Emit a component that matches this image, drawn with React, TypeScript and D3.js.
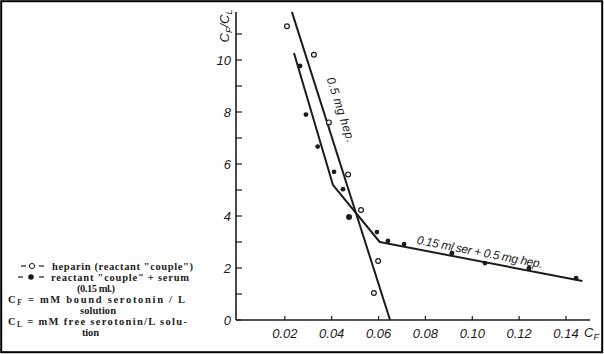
import { useEffect, useRef } from 'react';
import * as d3 from 'd3';

// heparin alone (open circles)
const heparinX = [0.0209, 0.0324, 0.0388, 0.047, 0.0525, 0.0598, 0.058];
const heparinY = [11.3, 10.2, 7.6, 5.6, 4.23, 2.27, 1.04];

// reactant couple + serum (filled circles)
const serumX = [0.0265, 0.029, 0.034, 0.041, 0.0448, 0.0474, 0.0593, 0.064, 0.0709, 0.0913, 0.1054, 0.1242, 0.1443];
const serumY = [9.77, 7.9, 6.67, 5.7, 5.03, 3.96, 3.38, 3.04, 2.92, 2.57, 2.19, 1.99, 1.61];

// fitted lines
const heparinLineX = [0.023, 0.0649];
const heparinLineY = [11.85, 0];
const serumLineX = [0.0239, 0.0405, 0.0605, 0.147];
const serumLineY = [10.27, 5.2, 3.0, 1.5];

const xTicks = [0.02, 0.04, 0.06, 0.08, 0.1, 0.12, 0.14];
const xTickLabels = ['0.02', '0.04', '0.06', '0.08', '0.10', '0.12', '0.14'];
const yTicks = [0, 1, 2, 3, 4, 5, 6, 7, 8, 9, 10, 11];
const yTickLabels = ['0', '', '2', '', '4', '', '6', '', '8', '', '10', ''];

const INK = '#1c1c1c';

export default function App() {
    const ref = useRef<SVGSVGElement>(null);

    useEffect(() => {
        if (!ref.current) return;
        const svg = d3.select(ref.current);
        svg.selectAll('*').remove();

        const W = 604, H = 354;
        svg.attr('width', W).attr('height', H);

        svg.append('rect').attr('width', W).attr('height', H).attr('fill', '#fff');
        // frame
        svg.append('rect')
            .attr('x', 1.2).attr('y', 1.2)
            .attr('width', W - 3).attr('height', H - 3)
            .attr('fill', 'none').attr('stroke', '#000').attr('stroke-width', 2);

        const x = d3.scaleLinear().domain([0, 0.14]).range([238, 566]);
        const y = d3.scaleLinear().domain([0, 10]).range([320, 60]);

        const g = svg.append('g');

        // axes lines
        g.append('line')
            .attr('x1', 236).attr('x2', 590)
            .attr('y1', y(0)).attr('y2', y(0))
            .attr('stroke', INK).attr('stroke-width', 1.6);
        g.append('line')
            .attr('x1', 236).attr('x2', 236)
            .attr('y1', y(0)).attr('y2', 12)
            .attr('stroke', INK).attr('stroke-width', 1.6);

        // x ticks
        g.selectAll('.xt').data(xTicks).enter().append('line')
            .attr('x1', d => x(d)).attr('x2', d => x(d))
            .attr('y1', y(0)).attr('y2', y(0) - 4)
            .attr('stroke', INK).attr('stroke-width', 1.2);
        g.selectAll('.xl').data(xTicks).enter().append('text')
            .attr('x', d => x(d)).attr('y', 338)
            .attr('text-anchor', 'middle')
            .attr('font-family', 'Liberation Sans, sans-serif')
            .attr('font-style', 'italic')
            .attr('font-size', 13)
            .attr('fill', INK)
            .text((_, i) => xTickLabels[i]);

        // y ticks
        g.selectAll('.yt').data(yTicks).enter().append('line')
            .attr('x1', 236).attr('x2', 242)
            .attr('y1', d => y(d)).attr('y2', d => y(d))
            .attr('stroke', INK).attr('stroke-width', 1.2);
        g.selectAll('.yl').data(yTicks).enter().append('text')
            .attr('x', 231).attr('y', d => y(d) + 5)
            .attr('text-anchor', 'end')
            .attr('font-family', 'Liberation Sans, sans-serif')
            .attr('font-style', 'italic')
            .attr('font-size', 13)
            .attr('fill', INK)
            .text((_, i) => yTickLabels[i]);

        // axis titles
        const yTitle = g.append('text')
            .attr('transform', 'translate(229,26) rotate(-90)')
            .attr('text-anchor', 'middle')
            .attr('font-family', 'Liberation Sans, sans-serif')
            .attr('font-style', 'italic')
            .attr('font-size', 13)
            .attr('fill', INK);
        yTitle.append('tspan').text('C');
        yTitle.append('tspan').attr('font-size', 9).attr('dy', 3).text('F');
        yTitle.append('tspan').attr('dy', -3).text('/C');
        yTitle.append('tspan').attr('font-size', 9).attr('dy', 3).text('L');

        const xTitle = g.append('text')
            .attr('x', 584).attr('y', 337)
            .attr('font-family', 'Liberation Sans, sans-serif')
            .attr('font-style', 'italic')
            .attr('font-size', 13)
            .attr('fill', INK);
        xTitle.append('tspan').text('C');
        xTitle.append('tspan').attr('font-size', 9).attr('dy', 3).text('F');

        // fitted lines
        const line = d3.line<[number, number]>()
            .x(d => x(d[0]))
            .y(d => y(d[1]));

        g.append('path')
            .datum(heparinLineX.map((v, i) => [v, heparinLineY[i]] as [number, number]))
            .attr('fill', 'none').attr('stroke', INK).attr('stroke-width', 2)
            .attr('d', line);
        g.append('path')
            .datum(serumLineX.map((v, i) => [v, serumLineY[i]] as [number, number]))
            .attr('fill', 'none').attr('stroke', INK).attr('stroke-width', 2)
            .attr('stroke-linejoin', 'round')
            .attr('d', line);

        // points
        g.selectAll('.hp').data(heparinX).enter().append('circle')
            .attr('cx', d => x(d)).attr('cy', (_, i) => y(heparinY[i]))
            .attr('r', 2.4)
            .attr('fill', '#fff').attr('stroke', INK).attr('stroke-width', 1.2);
        g.selectAll('.sp').data(serumX).enter().append('circle')
            .attr('cx', d => x(d)).attr('cy', (_, i) => y(serumY[i]))
            .attr('r', (_, i) => (i === 5 ? 3 : 2.4))
            .attr('fill', INK);

        // line labels
        g.append('text')
            .attr('transform', 'translate(337,111) rotate(72)')
            .attr('text-anchor', 'middle')
            .attr('font-family', 'Liberation Sans, sans-serif')
            .attr('font-style', 'italic')
            .attr('font-size', 12)
            .attr('textLength', 68)
            .attr('fill', INK)
            .text('0.5 mg hep.');
        g.append('text')
            .attr('transform', 'translate(479,256) rotate(11)')
            .attr('text-anchor', 'middle')
            .attr('font-family', 'Liberation Sans, sans-serif')
            .attr('font-style', 'italic')
            .attr('font-size', 12)
            .attr('textLength', 128)
            .attr('fill', INK)
            .text('0.15 ml ser + 0.5 mg hep.');

        // legend
        const leg = svg.append('g')
            .attr('font-family', 'Liberation Serif, serif')
            .attr('font-weight', 'bold')
            .attr('font-size', 10.5)
            .attr('fill', INK)
            .style('white-space', 'pre');

        const dash = (xx: number, yy: number) =>
            leg.append('line').attr('x1', xx).attr('x2', xx + 5)
                .attr('y1', yy).attr('y2', yy)
                .attr('stroke', INK).attr('stroke-width', 1.2);

        dash(21, 266); dash(39, 266);
        leg.append('circle').attr('cx', 32).attr('cy', 266).attr('r', 2.6)
            .attr('fill', '#fff').attr('stroke', INK).attr('stroke-width', 1);
        leg.append('text').attr('x', 52).attr('y', 269.5)
            .attr('textLength', 141)
            .text('heparin (reactant "couple")');

        dash(18, 277); dash(39, 277);
        leg.append('circle').attr('cx', 31).attr('cy', 277).attr('r', 2.8).attr('fill', INK);
        leg.append('text').attr('x', 51).attr('y', 280.5)
            .attr('textLength', 138)
            .text('reactant "couple" + serum');

        leg.append('text').attr('x', 77).attr('y', 291.5)
            .attr('textLength', 38)
            .text('(0.15 ml.)');

        const cf = leg.append('text').attr('x', 8).attr('y', 302.5).attr('textLength', 177);
        cf.append('tspan').text('C');
        cf.append('tspan').attr('font-size', 7.5).attr('dy', 2).text('F');
        cf.append('tspan').attr('dy', -2).text(' = mM  bound  serotonin / L');
        leg.append('text').attr('x', 80).attr('y', 313.5)
            .attr('textLength', 36)
            .text('solution');

        const cl = leg.append('text').attr('x', 8).attr('y', 324.5).attr('textLength', 179);
        cl.append('tspan').text('C');
        cl.append('tspan').attr('font-size', 7.5).attr('dy', 2).text('L');
        cl.append('tspan').attr('dy', -2).text(' = mM free serotonin/L  solu-');
        leg.append('text').attr('x', 82).attr('y', 335.5)
            .attr('textLength', 17)
            .text('tion');
    }, []);

    return (
        <svg ref={ref} style={{ position: 'absolute', left: 0, top: 0 }} />
    );
}
